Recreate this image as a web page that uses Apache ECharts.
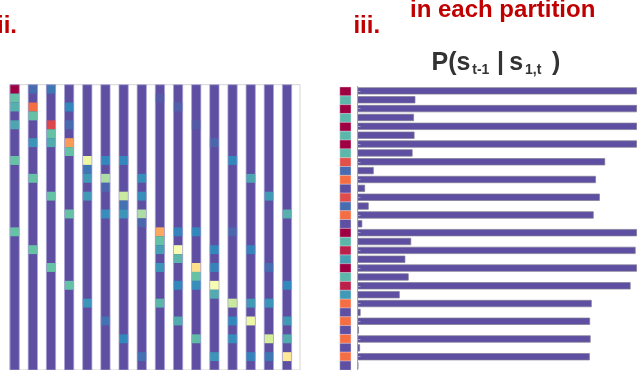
<!DOCTYPE html>
<html>
<head>
<meta charset="utf-8">
<script src="https://cdn.jsdelivr.net/npm/echarts@6/dist/echarts.min.js"></script>
<style>
  html, body { margin: 0; padding: 0; background: #fff; }
  #chart { width: 637px; height: 370px; }
</style>
</head>
<body>
<div id="chart"></div>
<script>
// Level scale: 0 = background state (purple) ... 1 = strongest state (crimson)
const baseLevel = 0;
const rowCount = 32;

// Each trajectory lists [row, level] for its non-background cells
const trajectory01 = [[0, 1.0], [1, 0.2], [2, 0.17], [4, 0.15], [8, 0.2], [16, 0.2]];
const trajectory02 = [[0, 0.05], [2, 0.8], [3, 0.2], [6, 0.12], [10, 0.2], [18, 0.2]];
const trajectory03 = [[0, 0.07], [4, 0.88], [5, 0.2], [6, 0.16], [12, 0.2], [20, 0.2]];
const trajectory04 = [[2, 0.1], [4, 0.05], [6, 0.73], [7, 0.2], [14, 0.2], [22, 0.2]];
const trajectory05 = [[8, 0.43], [9, 0.07], [10, 0.13], [12, 0.13], [24, 0.12]];
const trajectory06 = [[8, 0.1], [10, 0.3], [11, 0.04], [14, 0.11], [26, 0.06]];
const trajectory07 = [[8, 0.1], [12, 0.35], [13, 0.06], [14, 0.12], [28, 0.1]];
const trajectory08 = [[10, 0.11], [12, 0.11], [14, 0.3], [15, 0.04], [30, 0.06]];
const trajectory09 = [[1, 0.02], [16, 0.71], [17, 0.2], [18, 0.14], [20, 0.12], [24, 0.18]];
const trajectory10 = [[2, 0.03], [16, 0.09], [18, 0.47], [19, 0.18], [22, 0.1], [26, 0.16]];
const trajectory11 = [[4, 0.02], [16, 0.1], [20, 0.6], [21, 0.2], [22, 0.11], [28, 0.19]];
const trajectory12 = [[6, 0.04], [18, 0.1], [20, 0.09], [22, 0.47], [23, 0.16], [30, 0.12]];
const trajectory13 = [[8, 0.1], [16, 0.04], [24, 0.35], [26, 0.1], [28, 0.11]];
const trajectory14 = [[10, 0.15], [18, 0.09], [24, 0.13], [26, 0.43], [30, 0.09]];
const trajectory15 = [[12, 0.13], [20, 0.05], [24, 0.12], [28, 0.37], [30, 0.07]];
const trajectory16 = [[14, 0.17], [22, 0.1], [26, 0.13], [28, 0.16], [30, 0.57]];

const trajectories = [
  trajectory01, trajectory02, trajectory03, trajectory04,
  trajectory05, trajectory06, trajectory07, trajectory08,
  trajectory09, trajectory10, trajectory11, trajectory12,
  trajectory13, trajectory14, trajectory15, trajectory16
];

// Partition panel: one row per partition state
const partitionRows = ['1','2','3','4','5','6','7','8','9','10','11','12','13','14','15','16',
                       '17','18','19','20','21','22','23','24','25','26','27','28','29','30','31','32'];
const partitionLevels = [1.0, 0.18, 1.0, 0.18, 1.0, 0.18, 1.0, 0.18,
                         0.86, 0.05, 0.8, 0.0, 0.87, 0.05, 0.8, 0.0,
                         1.0, 0.18, 0.95, 0.14, 1.0, 0.18, 0.95, 0.13,
                         0.8, 0.0, 0.8, 0.0, 0.8, 0.0, 0.8, 0.0];
const transitionProb = [1.0, 0.207, 1.0, 0.202, 1.0, 0.204, 1.0, 0.197,
                        0.886, 0.058, 0.853, 0.027, 0.867, 0.040, 0.845, 0.017,
                        1.0, 0.192, 0.995, 0.171, 1.0, 0.183, 0.977, 0.151,
                        0.838, 0.011, 0.832, 0.005, 0.834, 0.009, 0.831, 0.003];

const spectral = ['#5e4fa2', '#3288bd', '#66c2a5', '#abdda4', '#e6f598', '#ffffbf',
                  '#fee08b', '#fdae61', '#f46d43', '#d53e4f', '#9e0142'];

// Column geometry inside each unit band of the trajectory grid
const colInset = 0.03;
const colSpan = 0.51;

const bodyData = trajectories.map((_, c) => [c, rowCount, baseLevel]);
const markData = [];
trajectories.forEach((marks, c) => {
  marks.forEach(([r, v]) => markData.push([c, r, v]));
});
const stripData = partitionLevels.map((v, i) => [0, i, v]);

function columnRect(api, c, r0, r1) {
  const p0 = api.coord([c + colInset, r0]);
  const p1 = api.coord([c + colInset + colSpan, r1]);
  return { x: p0[0], y: p0[1], width: p1[0] - p0[0], height: p1[1] - p0[1] };
}

const font = 'Liberation Sans, Arial, sans-serif';
function label(text, x, y, size, color) {
  return {
    type: 'text', x: x, y: y, silent: true,
    style: {
      text: text, fill: color, font: 'bold ' + size + 'px ' + font,
      align: 'left', verticalAlign: 'middle',
      textAlign: 'left', textVerticalAlign: 'middle'
    }
  };
}

const chart = echarts.init(document.getElementById('chart'), null, { renderer: 'canvas' });
chart.setOption({
  animation: false,
  backgroundColor: '#fff',
  grid: [
    { left: 9.5, top: 84.7, width: 290.5, height: 291.2, show: true, borderColor: '#d4d4d4', borderWidth: 1 },
    { left: 357.5, top: 86.45, right: 0, height: 288 },
    { left: 340, top: 87.2, width: 10.8, height: 288 }
  ],
  xAxis: [
    { gridIndex: 0, type: 'value', min: 0, max: trajectories.length, show: false },
    { gridIndex: 1, type: 'value', min: 0, max: 1, show: false },
    { gridIndex: 2, type: 'category', data: ['level'], show: false }
  ],
  yAxis: [
    { gridIndex: 0, type: 'value', min: 0, max: rowCount, inverse: true, show: false },
    {
      gridIndex: 1, type: 'category', data: partitionRows, inverse: true, z: 5,
      axisLine: { show: true, lineStyle: { color: '#a3a3a3', width: 1 } },
      axisTick: { show: true, inside: true, alignWithLabel: true, length: 3, lineStyle: { color: '#9c97c6', width: 1 } },
      axisLabel: { show: false },
      splitLine: { show: false }
    },
    { gridIndex: 2, type: 'category', data: partitionRows, inverse: true, show: false }
  ],
  visualMap: {
    type: 'continuous', show: false, min: 0, max: 1, dimension: 2,
    seriesIndex: [0, 1, 4],
    inRange: { color: spectral }
  },
  series: [
    {
      // column bodies in the background state
      type: 'custom', xAxisIndex: 0, yAxisIndex: 0, data: bodyData, silent: true,
      renderItem: function (params, api) {
        return { type: 'rect', shape: columnRect(api, api.value(0), 0, api.value(1)),
                 style: { fill: api.visual('color') } };
      }
    },
    {
      // state cells along each trajectory
      type: 'custom', xAxisIndex: 0, yAxisIndex: 0, data: markData, silent: true,
      renderItem: function (params, api) {
        const r = api.value(1);
        return { type: 'rect', shape: columnRect(api, api.value(0), r, r + 1),
                 style: { fill: api.visual('color') } };
      }
    },
    {
      // light outline round each column
      type: 'custom', xAxisIndex: 0, yAxisIndex: 0, data: bodyData, silent: true,
      renderItem: function (params, api) {
        return { type: 'rect', shape: columnRect(api, api.value(0), 0, api.value(1)),
                 style: { fill: null, stroke: 'rgba(172,166,214,0.9)', lineWidth: 0.8 } };
      }
    },
    {
      type: 'bar', xAxisIndex: 1, yAxisIndex: 1, data: transitionProb, silent: true,
      barCategoryGap: '19%',
      itemStyle: { color: '#5e4fa2', borderColor: '#7f7c92', borderWidth: 0.7 }
    },
    {
      type: 'heatmap', xAxisIndex: 2, yAxisIndex: 2, data: stripData, silent: true,
      itemStyle: { borderColor: '#ffffff', borderWidth: 0.4 }
    }
  ],
  graphic: [
    label('ii.', -3, 26, 24, '#c00000'),
    label('iii.', 353.4, 26, 24, '#c00000'),
    label('in each partition', 410, 10, 24, '#c00000'),
    label('P(s', 431.5, 63, 25, '#333333'),
    label('t-1', 472.3, 70.5, 14, '#333333'),
    label('|', 497, 63, 25, '#333333'),
    label('s', 509.2, 63, 25, '#333333'),
    label('1,t', 525, 70.5, 14, '#333333'),
    label(')', 552, 63, 25, '#333333')
  ]
});
</script>
</body>
</html>
